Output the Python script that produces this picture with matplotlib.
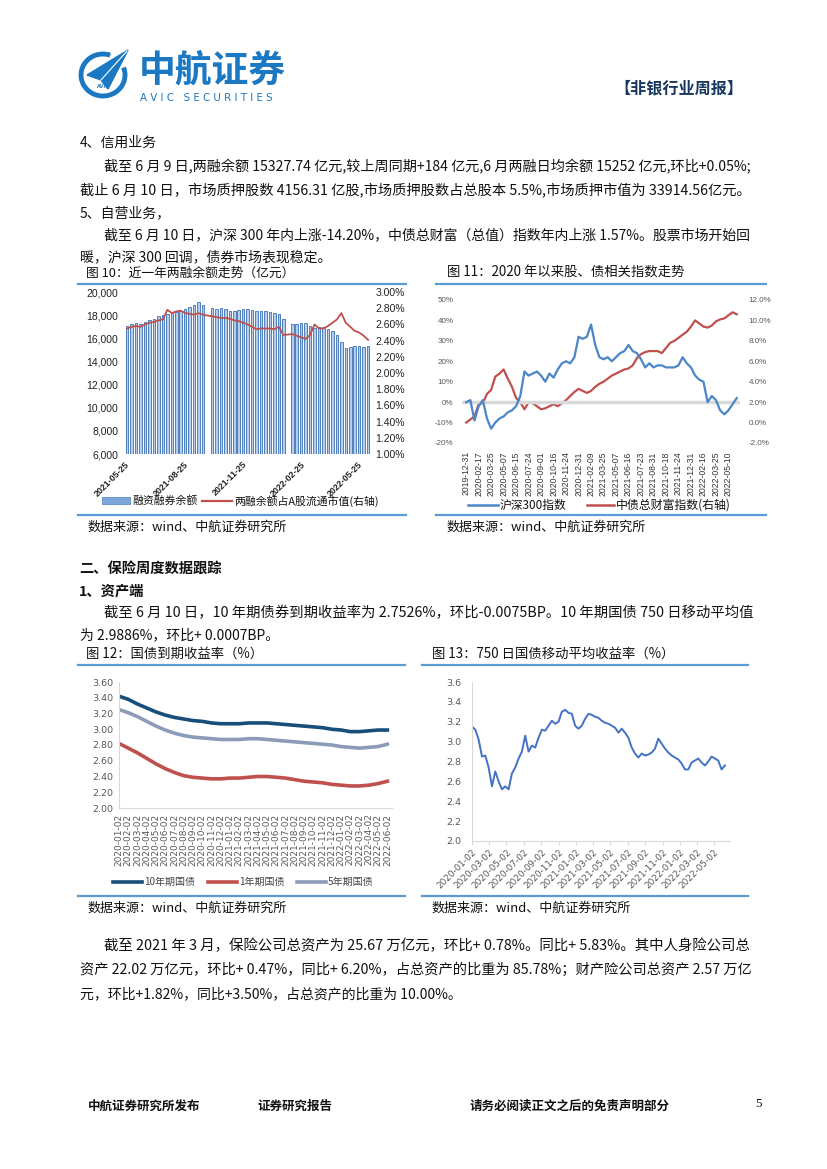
import numpy as np
import pandas as pd
import matplotlib
matplotlib.use('Agg')
import matplotlib.pyplot as plt
from matplotlib.patches import Arc, Polygon, Rectangle

plt.rcParams['font.family'] = ['Noto Sans CJK SC', 'DejaVu Sans']
plt.rcParams['axes.unicode_minus'] = False

# ---------------- data ----------------
# fig 10: weekly margin balance (亿元) and its share of A-share float cap (%)
margin_dates = pd.date_range('2021-05-28', '2022-06-10', freq='W-FRI')
margin_dates = margin_dates.drop(pd.to_datetime(['2021-10-01', '2022-02-04']))
margin_bal = [17100, 17250, 17300, 17250, 17400, 17600, 17700, 17900, 18050, 18100,
              18200, 18300, 18400, 18500, 18700, 18900, 19150, 18900, 18600, 18550,
              18650, 18500, 18350, 18400, 18450, 18500, 18500, 18450, 18400, 18350,
              18400, 18250, 18200, 18100, 17700, 17200, 17250, 17300, 17300, 17100,
              16900, 17000, 17000, 16800, 16600, 16300, 15700, 15200, 15250, 15300,
              15300, 15250, 15330]
margin_ratio = [2.55, 2.57, 2.58, 2.57, 2.60, 2.62, 2.63, 2.65, 2.66, 2.78,
                2.74, 2.76, 2.77, 2.74, 2.73, 2.72, 2.74, 2.72, 2.70, 2.69,
                2.68, 2.68, 2.67, 2.65, 2.64, 2.62, 2.60, 2.57, 2.54, 2.55,
                2.55, 2.55, 2.54, 2.57, 2.47, 2.48, 2.46, 2.44, 2.42, 2.47,
                2.60, 2.55, 2.55, 2.58, 2.62, 2.66, 2.74, 2.62, 2.57, 2.52,
                2.50, 2.46, 2.41]
margin_ticks = ['2021-05-25', '2021-08-25', '2021-11-25', '2022-02-25', '2022-05-25']

# fig 11: cumulative change since 2020 (%), sampled every 9 trading days
hs300 = [0, 1, -9, -2, 1, -8, -13, -10, -8, -7, -5, -4, -2, 3, 15, 13, 14, 15, 13, 10,
         14, 12, 16, 19, 20, 19, 22, 32, 31, 32, 38, 28, 22, 21, 22, 20, 22, 24, 25, 28,
         25, 24, 21, 17, 19, 17, 18, 18, 17, 17, 17, 18, 22, 19, 17, 13, 11, 10, 0, 3,
         1, -4, -6, -4, -1, 2]
cbond = [0.0, 0.3, 0.6, 1.8, 1.9, 2.8, 3.2, 4.5, 4.8, 5.2, 4.3, 3.5, 2.4, 2.0, 1.3, 2.0,
         1.9, 1.6, 1.3, 1.4, 1.6, 1.8, 1.6, 1.9, 2.2, 2.6, 3.0, 3.3, 3.1, 2.9, 3.1, 3.5,
         3.8, 4.0, 4.3, 4.6, 4.8, 5.0, 5.2, 5.3, 5.6, 6.3, 6.7, 6.9, 7.0, 7.0, 7.0, 6.8,
         7.3, 7.8, 8.0, 8.3, 8.6, 8.9, 9.4, 10.0, 9.7, 9.4, 9.3, 9.5, 9.9, 10.1, 10.2,
         10.5, 10.8, 10.6]
idx_ticks = ['2019-12-31', '2020-02-17', '2020-03-25', '2020-05-07', '2020-06-15',
             '2020-07-24', '2020-09-01', '2020-10-16', '2020-11-24', '2020-12-31',
             '2021-02-09', '2021-03-25', '2021-05-07', '2021-06-16', '2021-07-23',
             '2021-08-31', '2021-10-18', '2021-11-24', '2021-12-31', '2022-02-16',
             '2022-03-25', '2022-05-10']

# fig 12: monthly treasury yields (%)
ylds_months = pd.date_range('2020-01-01', '2022-06-01', freq='MS').strftime('%Y-%m-02')
y10 = [3.42, 3.38, 3.32, 3.27, 3.22, 3.18, 3.15, 3.13, 3.11, 3.10, 3.08, 3.07, 3.07, 3.07,
       3.08, 3.08, 3.08, 3.07, 3.06, 3.05, 3.04, 3.03, 3.02, 3.00, 2.99, 2.97, 2.97, 2.98,
       2.99, 2.99]
y1 = [2.82, 2.76, 2.70, 2.63, 2.56, 2.50, 2.45, 2.41, 2.39, 2.38, 2.37, 2.37, 2.38, 2.38,
      2.39, 2.40, 2.40, 2.39, 2.38, 2.36, 2.34, 2.33, 2.32, 2.30, 2.29, 2.28, 2.28, 2.29,
      2.31, 2.34]
y5 = [3.25, 3.21, 3.16, 3.10, 3.04, 2.99, 2.95, 2.92, 2.90, 2.89, 2.88, 2.87, 2.87, 2.87,
      2.88, 2.88, 2.87, 2.86, 2.85, 2.84, 2.83, 2.82, 2.81, 2.80, 2.78, 2.77, 2.76, 2.77,
      2.78, 2.81]

# fig 13: 750-day moving average of 10y yield (%)
ma750_dates = pd.date_range('2020-01-02', '2022-06-09', periods=77)
ma750 = [3.15, 3.12, 3.02, 2.85, 2.86, 2.74, 2.55, 2.70, 2.60, 2.52, 2.55, 2.52, 2.68,
         2.74, 2.83, 2.90, 3.06, 2.90, 2.96, 2.94, 3.04, 3.12, 3.11, 3.16, 3.21, 3.18,
         3.20, 3.30, 3.32, 3.29, 3.28, 3.16, 3.13, 3.16, 3.23, 3.28, 3.27, 3.25, 3.24,
         3.21, 3.19, 3.18, 3.16, 3.14, 3.09, 3.13, 3.09, 3.04, 2.94, 2.88, 2.84, 2.88,
         2.86, 2.87, 2.89, 2.93, 3.03, 2.98, 2.93, 2.89, 2.86, 2.84, 2.82, 2.78, 2.72,
         2.72, 2.79, 2.81, 2.83, 2.79, 2.76, 2.80, 2.85, 2.83, 2.81, 2.72, 2.76]
ma750_ticks = ['2020-01-02', '2020-03-02', '2020-05-02', '2020-07-02', '2020-09-02',
               '2020-11-02', '2021-01-02', '2021-03-02', '2021-05-02', '2021-07-02',
               '2021-09-02', '2021-11-02', '2022-01-02', '2022-03-02', '2022-05-02']

# ---------------- page ----------------
W, H = 827, 1169
fig = plt.figure(figsize=(8.27, 11.69), dpi=100)
bg = fig.add_axes([0, 0, 1, 1])
bg.set_xlim(0, W)
bg.set_ylim(H, 0)
bg.axis('off')
renderer = fig.canvas.get_renderer()


def box(l, t, r, b):
    return [l / W, 1 - b / H, (r - l) / W, (b - t) / H]


def txt(x, y, s, size=9.8, **kw):
    return bg.text(x, y, s, fontsize=size, va='center', ha=kw.pop('ha', 'left'), **kw)


def jtxt(x0, x1, y, s, size=10):
    # full-justified body line: scale font so the line spans x0..x1
    t = txt(x0, y, s, size, color=body)
    w = t.get_window_extent(renderer).width
    t.set_fontsize(size * (x1 - x0) / w)
    return t


blue_logo = '#1b78c2'
line_blue = '#5b9bd5'
body = '#111111'

# header / logo
bg.add_patch(Arc((103, 75), 44, 42, theta1=-20, theta2=290, lw=3.5, color=blue_logo))
bg.add_patch(Polygon([(87, 75), (128, 50), (108, 89), (101, 80)], closed=True,
                     color=blue_logo))
bg.plot([101, 127], [80, 51], color='white', lw=0.8)
txt(103, 87, 'AVIC', 4.2, color=blue_logo, ha='center', weight='bold')
txt(139, 71, '中航证券', 26.5, color=blue_logo, weight='bold')
txt(140, 98, 'A V I C   S E C U R I T I E S', 7.4, color=blue_logo, family='DejaVu Sans')
txt(614, 88, '【非银行业周报】', 11.6, color='#17375e', weight='bold')

# section 4/5 text
txt(80, 143, '4、信用业务', 10, color=body)
jtxt(104, 752, 167, '截至 6 月 9 日,两融余额 15327.74 亿元,较上周同期+184 亿元,6 月两融日均余额 15252 亿元,环比+0.05%;')
jtxt(80, 752, 190, '截止 6 月 10 日，市场质押股数 4156.31 亿股,市场质押股数占总股本 5.5%,市场质押市值为 33914.56亿元。')
txt(80, 213, '5、自营业务，', 10, color=body)
jtxt(104, 752, 235, '截至 6 月 10 日，沪深 300 年内上涨-14.20%，中债总财富（总值）指数年内上涨 1.57%。股票市场开始回')
txt(80, 257, '暖，沪深 300 回调，债券市场表现稳定。', 10, color=body)

# chart titles and frame lines (top charts)
txt(86, 273, '图 10：近一年两融余额走势（亿元）', 9.2, color=body)
txt(447, 273, '图 11：2020 年以来股、债相关指数走势', 9.6, color=body)
for x0, x1 in [(78, 406), (436, 766)]:
    bg.plot([x0, x1], [284, 284], color=line_blue, lw=1.6)
    bg.plot([x0, x1], [515, 515], color=line_blue, lw=1.6)
txt(88, 527, '数据来源：wind、中航证券研究所', 9.4, color=body)
txt(447, 527, '数据来源：wind、中航证券研究所', 9.4, color=body)

# ---- fig 10 ----
ax = fig.add_axes(box(124, 292, 370, 454))
ax.bar(margin_dates, margin_bal, width=4, color='#b8cde9', edgecolor='#4f81bd', lw=0.7)
ax.set_ylim(6000, 20000)
ax.set_yticks(range(6000, 20001, 2000))
ax.set_yticklabels([f'{v:,}' for v in range(6000, 20001, 2000)], family='Liberation Sans',
                   fontsize=7.5, color='#222222')
ax.set_xlim(pd.Timestamp('2021-05-23'), pd.Timestamp('2022-06-13'))
ax.set_xticks(pd.to_datetime(margin_ticks))
ax.set_xticklabels(margin_ticks, rotation=45, ha='right', rotation_mode='anchor',
                   fontsize=6.4, family='Liberation Sans', weight='bold', color='#222222')
ax2 = ax.twinx()
ax2.plot(margin_dates, margin_ratio, color='#c0504d', lw=1.3)
ax2.set_ylim(1.0, 3.0)
ax2.set_yticks(np.arange(1.0, 3.01, 0.2))
ax2.set_yticklabels([f'{v:.2f}%' for v in np.arange(1.0, 3.01, 0.2)],
                    family='Liberation Sans', fontsize=7.5, color='#222222')
for a in (ax, ax2):
    for s in a.spines.values():
        s.set_visible(False)
    a.tick_params(length=0, pad=4)
# legend
bg.add_patch(Rectangle((102, 497), 28, 7, facecolor='#7fa6d9', edgecolor='#4f81bd', lw=0.5))
txt(132, 501, '融资融券余额', 7.8, color=body)
bg.plot([202, 232], [501, 501], color='#c0504d', lw=1.6)
txt(234, 501, '两融余额占A股流通市值(右轴)', 7.8, color=body)

# ---- fig 11 ----
ax = fig.add_axes(box(462, 300, 740, 443))
pos = np.arange(len(hs300)) * 9
ax.axhline(0, color='#d9d9d9', lw=2.5, zorder=1)
ax.plot(pos, hs300, color='#4a86c8', lw=1.6, zorder=3)
ax.set_ylim(-20, 50)
ax.set_yticks(range(-20, 51, 10))
ax.set_yticklabels([f'{v}%' for v in range(-20, 51, 10)], fontsize=5.8,
                   family='Liberation Sans', color='#595959')
ax.set_xlim(-9, 592)
ax.set_xticks(np.arange(len(idx_ticks)) * 27)
ax.set_xticklabels(idx_ticks, rotation=90, fontsize=6.2, family='Liberation Sans',
                   color='#333333')
ax2 = ax.twinx()
ax2.plot(pos, cbond, color='#c0504d', lw=1.6, zorder=2)
ax2.set_ylim(-2, 12)
ax2.set_yticks(range(-2, 13, 2))
ax2.set_yticklabels([f'{v:.1f}%' for v in range(-2, 13, 2)], fontsize=5.8,
                    family='Liberation Sans', color='#595959')
ax.set_zorder(ax2.get_zorder() + 1)
ax.patch.set_visible(False)
for a in (ax, ax2):
    for s in a.spines.values():
        s.set_visible(False)
    a.tick_params(length=0, pad=6)
bg.plot([468, 498], [505, 505], color='#4a86c8', lw=1.8)
txt(500, 505, '沪深300指数', 8.5, color=body)
bg.plot([587, 614], [505, 505], color='#c0504d', lw=1.8)
txt(616, 505, '中债总财富指数(右轴)', 8.6, color=body)

# section 二
txt(79, 570, '二、保险周度数据跟踪', 10.3, color=body, weight='bold')
txt(79, 591, '1、资产端', 10.3, color=body, weight='bold')
jtxt(104, 752, 613, '截至 6 月 10 日，10 年期债券到期收益率为 2.7526%，环比-0.0075BP。10 年期国债 750 日移动平均值')
txt(80, 635, '为 2.9886%，环比+ 0.0007BP。', 10, color=body)

txt(86, 654, '图 12：国债到期收益率（%）', 9.6, color=body)
txt(432, 654, '图 13：750 日国债移动平均收益率（%）', 9.6, color=body)
for x0, x1 in [(78, 405), (422, 748)]:
    bg.plot([x0, x1], [665, 665], color=line_blue, lw=1.6)
    bg.plot([x0, x1], [896, 896], color=line_blue, lw=1.6)
txt(88, 908, '数据来源：wind、中航证券研究所', 9.4, color=body)
txt(432, 908, '数据来源：wind、中航证券研究所', 9.4, color=body)

# ---- fig 12 ----
ax = fig.add_axes(box(119, 682, 392, 808))
m = np.arange(len(y10))
ax.plot(m, y10, color='#174e7a', lw=2.6)
ax.plot(m, y1, color='#c0504d', lw=2.6)
ax.plot(m, y5, color='#8c9cb8', lw=2.6)
ax.set_ylim(2.0, 3.6)
ax.set_yticks(np.arange(2.0, 3.61, 0.2))
ax.set_yticklabels([f'{v:.2f}' for v in np.arange(2.0, 3.61, 0.2)], fontsize=6.8,
                   family='DejaVu Sans', color='#595959')
ax.set_xlim(0, 29.5)
ax.set_xticks(m)
ax.set_xticklabels(ylds_months, rotation=90, fontsize=6.5, family='DejaVu Sans',
                   color='#595959')
for s in ('top', 'right'):
    ax.spines[s].set_visible(False)
for s in ('left', 'bottom'):
    ax.spines[s].set_color('#d9d9d9')
ax.tick_params(length=0, pad=4)
for x0, col, lab in [(113, '#174e7a', '10年期国债'), (208, '#c0504d', '1年期国债'),
                     (297, '#8c9cb8', '5年期国债')]:
    bg.plot([x0, x0 + 29], [882, 882], color=col, lw=2.6)
    txt(x0 + 31, 882, lab, 7.2, color='#444444')

# ---- fig 13 ----
ax = fig.add_axes(box(472, 682, 730, 841))
ax.plot(ma750_dates, ma750, color='#4472c4', lw=1.4)
ax.set_ylim(2.0, 3.6)
ax.set_yticks(np.arange(2.0, 3.61, 0.2))
ax.set_yticklabels([f'{v:.1f}' for v in np.arange(2.0, 3.61, 0.2)], fontsize=6.8,
                   family='DejaVu Sans', color='#595959')
ax.set_xlim(pd.Timestamp('2020-01-02'), pd.Timestamp('2022-06-27'))
ax.set_xticks(pd.to_datetime(ma750_ticks))
ax.set_xticklabels(ma750_ticks, rotation=45, ha='right', rotation_mode='anchor',
                   fontsize=6.4, family='DejaVu Sans', color='#595959')
for s in ('top', 'right'):
    ax.spines[s].set_visible(False)
for s in ('left', 'bottom'):
    ax.spines[s].set_color('#d9d9d9')
ax.tick_params(axis='y', length=0, pad=8)
ax.tick_params(axis='x', length=3, color='#d9d9d9', pad=2)

# bottom paragraph
jtxt(104, 752, 946, '截至 2021 年 3 月，保险公司总资产为 25.67 万亿元，环比+ 0.78%。同比+ 5.83%。其中人身险公司总')
jtxt(80, 752, 970, '资产 22.02 万亿元，环比+ 0.47%，同比+ 6.20%，占总资产的比重为 85.78%；财产险公司总资产 2.57 万亿')
txt(80, 994, '元，环比+1.82%，同比+3.50%，占总资产的比重为 10.00%。', 10, color=body)

# footer
txt(88, 1106, '中航证券研究所发布', 9, color=body, weight='bold')
txt(257, 1106, '证券研究报告', 9, color=body, weight='bold')
txt(470, 1106, '请务必阅读正文之后的免责声明部分', 9, color=body, weight='bold')
txt(755, 1104, '5', 9.5, color=body, family='Liberation Serif')

fig.savefig('out.png', dpi=100)
